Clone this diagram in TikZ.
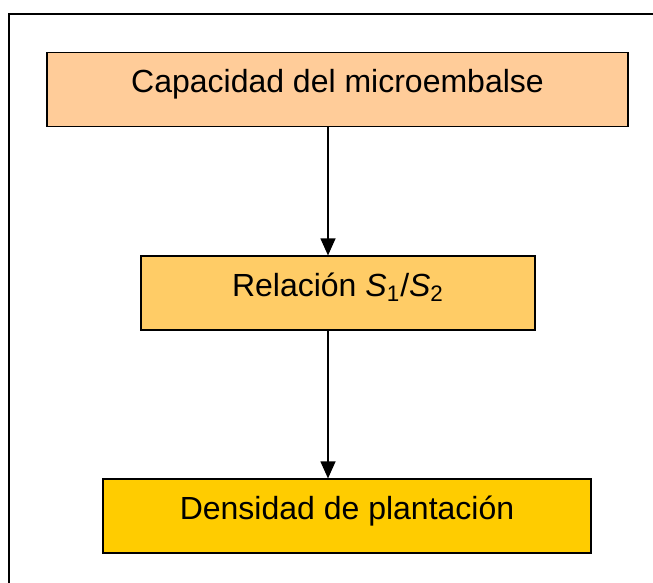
\documentclass[tikz,border=0pt]{standalone}
\usepackage{fontspec}
\setmainfont{Liberation Sans}
\usetikzlibrary{arrows.meta}
\definecolor{peach}{HTML}{FFCC99}
\definecolor{lightgold}{HTML}{FFCC66}
\definecolor{gold}{HTML}{FFCC00}
\tikzstyle{factor} = [rectangle, draw=black, line width=0.6pt, minimum height=37pt, inner xsep=0pt, inner ysep=0pt, text height=20pt, text depth=17pt, font=\fontsize{16}{19}\selectfont]
\tikzstyle{arrow}  = [line width=0.6pt, -{Triangle[length=8.5pt,width=7.5pt]}]
\begin{document}
\begin{tikzpicture}[x=1pt,y=1pt]
        \useasboundingbox (0,0) rectangle (326.5,-291.5);
        \draw[line width=1pt] (4.5,-7) rectangle (335,-300);
        \node[factor, fill=peach, minimum width=290.5pt] (capacidad) at (168.75,-44.75) {Capacidad del microembalse};
        \node[factor, fill=lightgold, minimum width=197pt] (relacion) at (169,-146.5) {Relación \textit{S}\textsubscript{1}/\textit{S}\textsubscript{2}};
        \node[factor, fill=gold, minimum width=244pt] (densidad) at (173.5,-258) {Densidad de plantación};
        \coordinate (eje) at (164,0);

        \draw[arrow] (capacidad.south -| eje) -- (relacion.north -| eje);
        \draw[arrow] (relacion.south -| eje) -- (densidad.north -| eje);
    \end{tikzpicture}
\end{document}
